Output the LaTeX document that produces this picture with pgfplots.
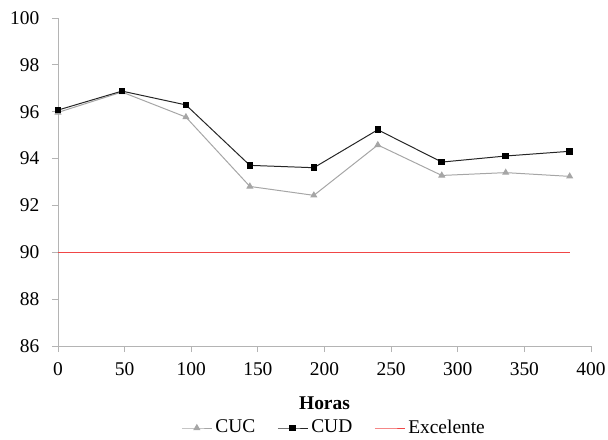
\documentclass[border=0pt]{standalone}
\usepackage{fontspec}
\setmainfont{Liberation Serif}
\usepackage{pgfplots}
\pgfplotsset{compat=1.18}
\usetikzlibrary{calc}
\definecolor{cucgray}{RGB}{166,166,166}
\definecolor{axgray}{RGB}{180,180,180}
\definecolor{exred}{RGB}{240,70,70}
\newcommand{\bigf}{\fontsize{19.5}{22}\selectfont}
\begin{document}
\bigf
\begin{tikzpicture}[font=\bigf]
\begin{axis}[
  name=ax,
  scale only axis,
  width=533bp, height=328bp,
  xmin=0, xmax=400, ymin=86, ymax=100,
  xtick={0,50,...,400}, ytick={86,88,...,100},
  axis x line=bottom, axis y line=left,
  axis line style={draw=axgray, line width=0.9pt, -},
  tick style={draw=axgray, line width=0.9pt},
  tick align=outside, major tick length=6bp,
  /pgf/number format/assume math mode=true,
  /pgf/number format/1000 sep={},
  xticklabel={\pgfmathprintnumber{\tick}},
  yticklabel={\pgfmathprintnumber{\tick}},
  every tick label/.append style={font=\bigf},
  xticklabel style={font=\bigf, yshift=-4bp},
  yticklabel style={font=\bigf, xshift=-6bp},
  xlabel={\textbf{Horas}},
  xlabel style={font=\bigf, at={(axis description cs:0.5,0)}, anchor=center, yshift=-57bp},
  clip=false,
  legend columns=3,
  legend style={draw=none, fill=none, at={(0.518,-0.25)}, anchor=center,
    font=\bigf,
    /tikz/every even column/.append style={column sep=20bp},
    /tikz/every odd column/.append style={column sep=1bp}},
  legend image code/.code={\draw[mark repeat=2,mark phase=2] plot coordinates {(0bp,0bp) (15bp,0bp) (30bp,0bp)};},
]
\addplot[color=cucgray, line width=1pt, mark=triangle*, mark size=3.2pt,
  mark options={fill=cucgray, draw=cucgray}] coordinates {
(0,95.97) (48,96.84) (96,95.77) (144,92.81) (192,92.43) (240,94.58) (288,93.28) (336,93.40) (384,93.24)};
\addlegendentry{CUC}
\addplot[color=black!85, line width=1pt, mark=square*, mark size=2.8pt,
  mark options={fill=black, draw=black}] coordinates {
(0,96.07) (48,96.88) (96,96.29) (144,93.71) (192,93.61) (240,95.23) (288,93.85) (336,94.11) (384,94.31)};
\addlegendentry{CUD}
\addplot[color=exred, line width=1pt, mark=none] coordinates {(0,90) (384,90)};
\addlegendentry{Excelente}
\end{axis}
\pgfresetboundingbox
\path[use as bounding box] ($(ax.south west)+(-58bp,-94bp)$) rectangle ($(ax.south west)+(550bp,346bp)$);
\end{tikzpicture}
\end{document}
